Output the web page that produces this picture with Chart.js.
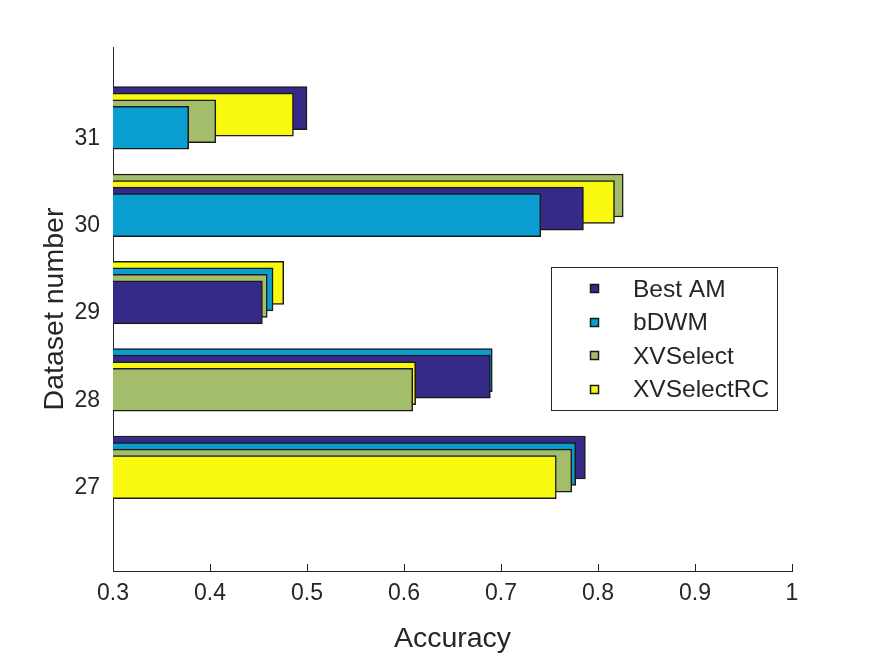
<!DOCTYPE html>
<html>
<head>
<meta charset="utf-8">
<script src="https://cdn.jsdelivr.net/npm/chart.js@4.4.0/dist/chart.umd.min.js"></script>
<style>
  html, body { margin: 0; padding: 0; background: #fff; }
</style>
</head>
<body>
<canvas id="chart" width="875" height="657"></canvas>
<script>
// Accuracy per dataset, MATLAB-style overlapping horizontal bars

const datasetNumbers = [31, 30, 29, 28, 27];
const seriesNames = ["Best AM", "bDWM", "XVSelect", "XVSelectRC"];
const bestAM = [0.500, 0.785, 0.454, 0.689, 0.787];
const bDWM = [0.378, 0.741, 0.465, 0.691, 0.777];
const xvSelect = [0.406, 0.826, 0.459, 0.609, 0.773];
const xvSelectRC = [0.486, 0.817, 0.476, 0.612, 0.757];
const xTickValues = [0.3, 0.4, 0.5, 0.6, 0.7, 0.8, 0.9, 1];
const xTickLabels = ["0.3", "0.4", "0.5", "0.6", "0.7", "0.8", "0.9", "1"];

const seriesColors = ["#352a87", "#0a9dcf", "#a4bd6a", "#f8f90f"];
const textColor = "#262626";
const edgeColor = "#1a1a1a";
// vertical shift of each bar, back (longest) to front (shortest)
const depthOffsets = [0.3, 0.225, 0.15, 0.075];

Chart.defaults.font.family = "'Liberation Sans', Arial, Helvetica, sans-serif";
Chart.defaults.color = textColor;

const allSeries = [bestAM, bDWM, xvSelect, xvSelectRC];

// one Chart.js dataset per depth rank so the longest bar is drawn at the back
function buildRankDatasets() {
  return depthOffsets.map((offset, rank) => {
    const points = [];
    const colors = [];
    datasetNumbers.forEach((num, i) => {
      const sorted = [0, 1, 2, 3].sort((a, b) => allSeries[b][i] - allSeries[a][i]);
      const s = sorted[rank];
      points.push({ y: num + offset, x: [0.3, allSeries[s][i]] });
      colors.push(seriesColors[s]);
    });
    return {
      label: "rank " + rank,
      data: points,
      backgroundColor: colors,
      borderColor: edgeColor,
      borderWidth: 1.5,
      borderSkipped: "start",
      barThickness: 43,
      grouped: false,
      order: depthOffsets.length - 1 - rank,
    };
  });
}

const innerTicks = {
  id: "innerTicks",
  afterDraw(chart) {
    const ctx = chart.ctx;
    const xScale = chart.scales.x;
    const bottom = chart.chartArea.bottom;
    ctx.save();
    ctx.strokeStyle = textColor;
    ctx.lineWidth = 1;
    xTickValues.forEach((v) => {
      const px = Math.round(xScale.getPixelForValue(v)) + 0.5;
      ctx.beginPath();
      ctx.moveTo(px, bottom);
      ctx.lineTo(px, bottom - 7);
      ctx.stroke();
    });
    ctx.restore();
  },
};

const boxLegend = {
  id: "boxLegend",
  afterDraw(chart) {
    const ctx = chart.ctx;
    const left = 551.5, top = 267.5, w = 226, h = 143;
    ctx.save();
    ctx.fillStyle = "#fff";
    ctx.fillRect(left, top, w, h);
    ctx.strokeStyle = textColor;
    ctx.lineWidth = 1;
    ctx.strokeRect(left, top, w, h);
    ctx.font = "24.5px 'Liberation Sans', Arial, sans-serif";
    ctx.textBaseline = "middle";
    seriesNames.forEach((name, i) => {
      const cy = 289 + i * 33.5;
      ctx.fillStyle = seriesColors[i];
      ctx.fillRect(590.5, Math.round(cy) - 4.5, 8, 8);
      ctx.strokeStyle = edgeColor;
      ctx.lineWidth = 1.5;
      ctx.strokeRect(590.5, Math.round(cy) - 4.5, 8, 8);
      ctx.fillStyle = textColor;
      ctx.fillText(name, 633, cy + 1);
    });
    ctx.restore();
  },
};

new Chart(document.getElementById("chart"), {
  type: "bar",
  data: { datasets: buildRankDatasets() },
  options: {
    indexAxis: "y",
    responsive: false,
    animation: false,
    layout: { padding: { top: 47, right: 83, left: 0, bottom: 0 } },
    plugins: {
      legend: { display: false },
      tooltip: { enabled: false },
    },
    scales: {
      x: {
        type: "linear",
        min: 0.3,
        max: 1,
        afterBuildTicks: (scale) => {
          scale.ticks = xTickValues.map((v) => ({ value: v }));
        },
        afterFit: (scale) => {
          scale.height = 86;
        },
        ticks: {
          callback: (v) => xTickLabels[xTickValues.indexOf(v)],
          font: { size: 23 },
          color: textColor,
          padding: 9,
          maxRotation: 0,
        },
        grid: { display: false, drawTicks: false },
        border: { display: true, color: textColor, width: 1 },
        title: {
          display: true,
          text: "Accuracy",
          font: { size: 28.5 },
          color: textColor,
          padding: { top: 0, bottom: 1 },
        },
      },
      y: {
        type: "linear",
        min: 26,
        max: 32,
        offset: false,
        afterBuildTicks: (scale) => {
          scale.ticks = datasetNumbers.map((v) => ({ value: v }));
        },
        afterFit: (scale) => {
          scale.width = 113;
        },
        ticks: {
          callback: (v) => String(v),
          font: { size: 23 },
          color: textColor,
          padding: 13,
          labelOffset: 4,
        },
        grid: { display: false, drawTicks: false },
        border: { display: true, color: textColor, width: 1 },
        title: {
          display: true,
          text: "Dataset number",
          font: { size: 28.5 },
          color: textColor,
          padding: { top: 38, bottom: 0 },
        },
      },
    },
  },
  plugins: [innerTicks, boxLegend],
});
</script>
</body>
</html>
